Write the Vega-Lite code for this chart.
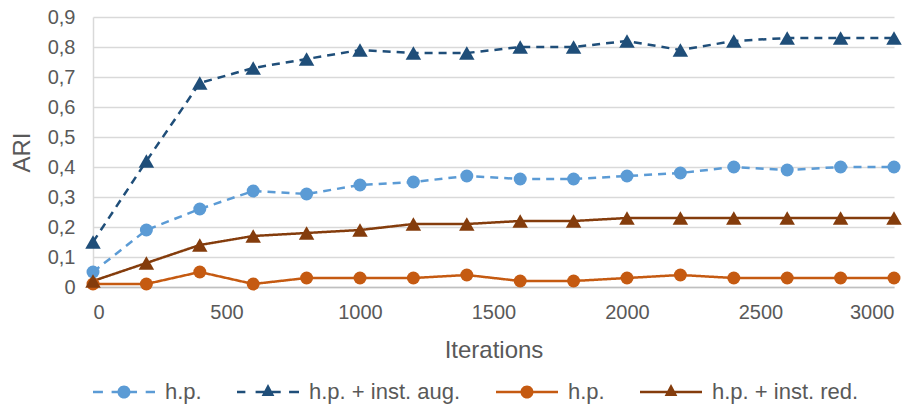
{
  "$schema": "https://vega.github.io/schema/vega-lite/v6.json",
  "width": 801,
  "height": 270,
  "autosize": {"type": "none"},
  "padding": {"left": 93, "top": 17, "right": 26, "bottom": 118},
  "background": "white",
  "config": {
    "view": {"stroke": null},
    "font": "Liberation Sans, Arial, sans-serif",
    "axis": {"labelColor": "#595959", "titleColor": "#595959", "titleFontWeight": "normal", "labelFontSize": 20, "titleFontSize": 24, "ticks": false, "tickSize": 0},
    "legend": {"labelColor": "#595959", "labelFontSize": 22}
  },
  "data": {
    "values": [
      {"it": 0, "s": "A", "v": 0.05}, {"it": 200, "s": "A", "v": 0.19}, {"it": 400, "s": "A", "v": 0.26}, {"it": 600, "s": "A", "v": 0.32}, {"it": 800, "s": "A", "v": 0.31}, {"it": 1000, "s": "A", "v": 0.34}, {"it": 1200, "s": "A", "v": 0.35}, {"it": 1400, "s": "A", "v": 0.37}, {"it": 1600, "s": "A", "v": 0.36}, {"it": 1800, "s": "A", "v": 0.36}, {"it": 2000, "s": "A", "v": 0.37}, {"it": 2200, "s": "A", "v": 0.38}, {"it": 2400, "s": "A", "v": 0.40}, {"it": 2600, "s": "A", "v": 0.39}, {"it": 2800, "s": "A", "v": 0.40}, {"it": 3000, "s": "A", "v": 0.40},
      {"it": 0, "s": "B", "v": 0.15}, {"it": 200, "s": "B", "v": 0.42}, {"it": 400, "s": "B", "v": 0.68}, {"it": 600, "s": "B", "v": 0.73}, {"it": 800, "s": "B", "v": 0.76}, {"it": 1000, "s": "B", "v": 0.79}, {"it": 1200, "s": "B", "v": 0.78}, {"it": 1400, "s": "B", "v": 0.78}, {"it": 1600, "s": "B", "v": 0.80}, {"it": 1800, "s": "B", "v": 0.80}, {"it": 2000, "s": "B", "v": 0.82}, {"it": 2200, "s": "B", "v": 0.79}, {"it": 2400, "s": "B", "v": 0.82}, {"it": 2600, "s": "B", "v": 0.83}, {"it": 2800, "s": "B", "v": 0.83}, {"it": 3000, "s": "B", "v": 0.83},
      {"it": 0, "s": "C", "v": 0.01}, {"it": 200, "s": "C", "v": 0.01}, {"it": 400, "s": "C", "v": 0.05}, {"it": 600, "s": "C", "v": 0.01}, {"it": 800, "s": "C", "v": 0.03}, {"it": 1000, "s": "C", "v": 0.03}, {"it": 1200, "s": "C", "v": 0.03}, {"it": 1400, "s": "C", "v": 0.04}, {"it": 1600, "s": "C", "v": 0.02}, {"it": 1800, "s": "C", "v": 0.02}, {"it": 2000, "s": "C", "v": 0.03}, {"it": 2200, "s": "C", "v": 0.04}, {"it": 2400, "s": "C", "v": 0.03}, {"it": 2600, "s": "C", "v": 0.03}, {"it": 2800, "s": "C", "v": 0.03}, {"it": 3000, "s": "C", "v": 0.03},
      {"it": 0, "s": "D", "v": 0.02}, {"it": 200, "s": "D", "v": 0.08}, {"it": 400, "s": "D", "v": 0.14}, {"it": 600, "s": "D", "v": 0.17}, {"it": 800, "s": "D", "v": 0.18}, {"it": 1000, "s": "D", "v": 0.19}, {"it": 1200, "s": "D", "v": 0.21}, {"it": 1400, "s": "D", "v": 0.21}, {"it": 1600, "s": "D", "v": 0.22}, {"it": 1800, "s": "D", "v": 0.22}, {"it": 2000, "s": "D", "v": 0.23}, {"it": 2200, "s": "D", "v": 0.23}, {"it": 2400, "s": "D", "v": 0.23}, {"it": 2600, "s": "D", "v": 0.23}, {"it": 2800, "s": "D", "v": 0.23}, {"it": 3000, "s": "D", "v": 0.23}
    ]
  },
  "encoding": {
    "x": {"field": "it", "type": "quantitative", "scale": {"domain": [0, 3000], "nice": false},
      "axis": {"values": [0, 500, 1000, 1500, 2000, 2500, 3000], "format": "d", "grid": false, "domainColor": "#bfbfbf", "domainWidth": 1.5, "labelPadding": 15, "title": "Iterations", "titlePadding": 16}},
    "y": {"field": "v", "type": "quantitative", "scale": {"domain": [0, 0.9], "nice": false},
      "axis": {"values": [0, 0.1, 0.2, 0.3, 0.4, 0.5, 0.6, 0.7, 0.8, 0.9], "grid": true, "gridColor": "#d9d9d9", "gridWidth": 1.5, "domainColor": "#d9d9d9", "domainWidth": 1.5, "labelPadding": 18, "labelExpr": "datum.value === 0 ? '0' : replace(format(datum.value, '.1f'), '.', ',')", "title": "ARI", "titlePadding": 13}}
  },
  "layer": [
    {"transform": [{"filter": "datum.it < 0"}],
     "mark": {"type": "point", "filled": true, "opacity": 1, "strokeWidth": 0},
     "encoding": {
       "fill": {"field": "s", "type": "nominal", "scale": {"domain": ["A", "B", "C", "D"], "range": ["#5B9BD5", "#1F4E79", "#C55A11", "#843C0C"]},
         "legend": {"orient": "bottom", "direction": "horizontal", "title": null, "offset": -1, "symbolSize": 3844, "symbolStrokeWidth": 0, "symbolOpacity": 1, "labelOffset": 10, "columnPadding": 35,
           "labelExpr": "datum.value === 'A' || datum.value === 'C' ? 'h.p.' : datum.value === 'B' ? 'h.p. + inst. aug.' : 'h.p. + inst. red.'"}},
       "shape": {"field": "s", "type": "nominal", "scale": {"domain": ["A", "B", "C", "D"], "range": [
         "M-1,-0.04L-0.68,-0.04L-0.68,0.04L-1,0.04Z M-0.4,-0.04L0.42,-0.04L0.42,0.04L-0.4,0.04Z M0.7,-0.04L1,-0.04L1,0.04L0.7,0.04Z M0.21,0A0.21,0.21 0 1,1 -0.21,0A0.21,0.21 0 1,1 0.21,0Z",
         "M-1,-0.04L-0.73,-0.04L-0.73,0.04L-1,0.04Z M-0.4,-0.04L0.41,-0.04L0.41,0.04L-0.4,0.04Z M0.68,-0.04L1,-0.04L1,0.04L0.68,0.04Z M0,-0.26L0.205,0.13L-0.205,0.13Z",
         "M-1,-0.04L1,-0.04L1,0.04L-1,0.04Z M0.21,0A0.21,0.21 0 1,1 -0.21,0A0.21,0.21 0 1,1 0.21,0Z",
         "M-1,-0.04L1,-0.04L1,0.04L-1,0.04Z M0,-0.26L0.205,0.13L-0.205,0.13Z"]}}
     }},
    {"mark": {"type": "line", "strokeWidth": 2.5},
     "encoding": {
       "color": {"field": "s", "type": "nominal", "scale": {"domain": ["A", "B", "C", "D"], "range": ["#5B9BD5", "#1F4E79", "#C55A11", "#843C0C"]}, "legend": null},
       "strokeDash": {"field": "s", "type": "nominal", "scale": {"domain": ["A", "B", "C", "D"], "range": [[8, 6], [8, 6], [1, 0], [1, 0]]}, "legend": null}}},
    {"transform": [{"filter": {"field": "s", "oneOf": ["A", "C"]}}],
     "mark": {"type": "point", "shape": "circle", "size": 169, "filled": true, "opacity": 1, "strokeWidth": 0},
     "encoding": {
       "color": {"field": "s", "type": "nominal", "scale": {"domain": ["A", "B", "C", "D"], "range": ["#5B9BD5", "#1F4E79", "#C55A11", "#843C0C"]}, "legend": null}}},
    {"transform": [{"filter": {"field": "s", "oneOf": ["B", "D"]}}],
     "mark": {"type": "point", "shape": "triangle-up", "size": 240, "filled": true, "opacity": 1, "strokeWidth": 0},
     "encoding": {
       "color": {"field": "s", "type": "nominal", "scale": {"domain": ["A", "B", "C", "D"], "range": ["#5B9BD5", "#1F4E79", "#C55A11", "#843C0C"]}, "legend": null}}}
  ]
}
